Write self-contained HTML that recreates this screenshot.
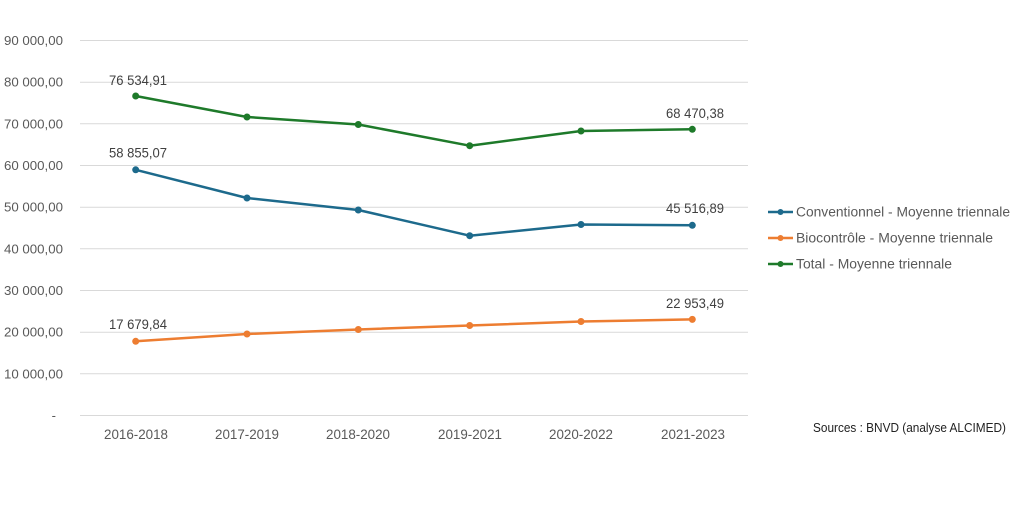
<!DOCTYPE html>
<html><head><meta charset="utf-8"><style>
html,body{margin:0;padding:0;background:#fff;}
svg{display:block;}
text{font-family:"Liberation Sans",sans-serif;}
</style></head><body>
<svg width="1024" height="510" viewBox="0 0 1024 510" xmlns="http://www.w3.org/2000/svg">
<g stroke="#d9d9d9" stroke-width="1">
<line x1="80" y1="40.5" x2="748" y2="40.5"/>
<line x1="80" y1="82.2" x2="748" y2="82.2"/>
<line x1="80" y1="123.8" x2="748" y2="123.8"/>
<line x1="80" y1="165.5" x2="748" y2="165.5"/>
<line x1="80" y1="207.2" x2="748" y2="207.2"/>
<line x1="80" y1="248.8" x2="748" y2="248.8"/>
<line x1="80" y1="290.5" x2="748" y2="290.5"/>
<line x1="80" y1="332.2" x2="748" y2="332.2"/>
<line x1="80" y1="373.8" x2="748" y2="373.8"/>
<line x1="80" y1="415.5" x2="748" y2="415.5"/>
</g>
<g fill="#595959" font-size="13" text-anchor="end" lengthAdjust="spacingAndGlyphs">
<text x="63" y="45" textLength="59" lengthAdjust="spacingAndGlyphs">90 000,00</text>
<text x="63" y="86.7" textLength="59" lengthAdjust="spacingAndGlyphs">80 000,00</text>
<text x="63" y="128.3" textLength="59" lengthAdjust="spacingAndGlyphs">70 000,00</text>
<text x="63" y="170" textLength="59" lengthAdjust="spacingAndGlyphs">60 000,00</text>
<text x="63" y="211.7" textLength="59" lengthAdjust="spacingAndGlyphs">50 000,00</text>
<text x="63" y="253.3" textLength="59" lengthAdjust="spacingAndGlyphs">40 000,00</text>
<text x="63" y="295" textLength="59" lengthAdjust="spacingAndGlyphs">30 000,00</text>
<text x="63" y="336.7" textLength="59" lengthAdjust="spacingAndGlyphs">20 000,00</text>
<text x="63" y="378.3" textLength="59" lengthAdjust="spacingAndGlyphs">10 000,00</text>
<text x="56" y="420">-</text>
</g>
<g fill="#595959" font-size="13.5" text-anchor="middle">
<text x="136" y="439" textLength="64" lengthAdjust="spacingAndGlyphs">2016-2018</text>
<text x="247" y="439" textLength="64" lengthAdjust="spacingAndGlyphs">2017-2019</text>
<text x="358" y="439" textLength="64" lengthAdjust="spacingAndGlyphs">2018-2020</text>
<text x="470" y="439" textLength="64" lengthAdjust="spacingAndGlyphs">2019-2021</text>
<text x="581" y="439" textLength="64" lengthAdjust="spacingAndGlyphs">2020-2022</text>
<text x="693" y="439" textLength="64" lengthAdjust="spacingAndGlyphs">2021-2023</text>
</g>
<g fill="none" stroke-width="2.5" stroke-linejoin="round">
<polyline stroke="#1e7a2a" points="135.7,96 247,117 358.3,124.5 469.7,145.7 581,131 692.3,129.3"/>
<polyline stroke="#1d6a8c" points="135.7,169.8 247,198 358.3,210 469.7,235.7 581,224.5 692.3,225.3"/>
<polyline stroke="#ed7d31" points="135.7,341.3 247,334 358.3,329.5 469.7,325.5 581,321.5 692.3,319.4"/>
</g>
<g fill="#1e7a2a">
<circle cx="135.7" cy="96" r="3.5"/><circle cx="247" cy="117" r="3.5"/><circle cx="358.3" cy="124.5" r="3.5"/><circle cx="469.7" cy="145.7" r="3.5"/><circle cx="581" cy="131" r="3.5"/><circle cx="692.3" cy="129.3" r="3.5"/>
</g>
<g fill="#1d6a8c">
<circle cx="135.7" cy="169.8" r="3.5"/><circle cx="247" cy="198" r="3.5"/><circle cx="358.3" cy="210" r="3.5"/><circle cx="469.7" cy="235.7" r="3.5"/><circle cx="581" cy="224.5" r="3.5"/><circle cx="692.3" cy="225.3" r="3.5"/>
</g>
<g fill="#ed7d31">
<circle cx="135.7" cy="341.3" r="3.5"/><circle cx="247" cy="334" r="3.5"/><circle cx="358.3" cy="329.5" r="3.5"/><circle cx="469.7" cy="325.5" r="3.5"/><circle cx="581" cy="321.5" r="3.5"/><circle cx="692.3" cy="319.4" r="3.5"/>
</g>
<g fill="#404040" font-size="13.5" text-anchor="middle">
<text x="138" y="85" textLength="58" lengthAdjust="spacingAndGlyphs">76 534,91</text>
<text x="138" y="157.5" textLength="58" lengthAdjust="spacingAndGlyphs">58 855,07</text>
<text x="138" y="329" textLength="58" lengthAdjust="spacingAndGlyphs">17 679,84</text>
<text x="695" y="118" textLength="58" lengthAdjust="spacingAndGlyphs">68 470,38</text>
<text x="695" y="213" textLength="58" lengthAdjust="spacingAndGlyphs">45 516,89</text>
<text x="695" y="308" textLength="58" lengthAdjust="spacingAndGlyphs">22 953,49</text>
</g>
<g stroke-width="2.5">
<line x1="768" y1="212" x2="793" y2="212" stroke="#1d6a8c"/>
<line x1="768" y1="238" x2="793" y2="238" stroke="#ed7d31"/>
<line x1="768" y1="264" x2="793" y2="264" stroke="#1e7a2a"/>
</g>
<circle cx="780.5" cy="212" r="3" fill="#1d6a8c"/>
<circle cx="780.5" cy="238" r="3" fill="#ed7d31"/>
<circle cx="780.5" cy="264" r="3" fill="#1e7a2a"/>
<g fill="#595959" font-size="13.5">
<text x="796" y="216.5" textLength="214" lengthAdjust="spacingAndGlyphs">Conventionnel - Moyenne triennale</text>
<text x="796" y="242.5" textLength="197" lengthAdjust="spacingAndGlyphs">Biocontrôle - Moyenne triennale</text>
<text x="796" y="268.5" textLength="156" lengthAdjust="spacingAndGlyphs">Total - Moyenne triennale</text>
</g>
<text x="813" y="432" font-size="12.5" fill="#222" textLength="193" lengthAdjust="spacingAndGlyphs">Sources : BNVD (analyse ALCIMED)</text>
</svg>
</body></html>
